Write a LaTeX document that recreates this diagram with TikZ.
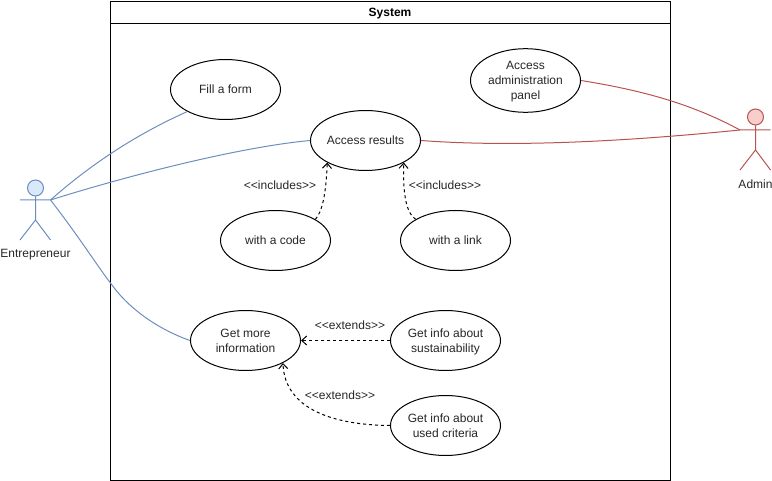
\documentclass[tikz,border=0pt]{standalone}
\usepackage{fontspec}
\setmainfont{Liberation Sans}
\usetikzlibrary{shapes.geometric,arrows.meta}
\definecolor{bluel}{HTML}{6C8EBF}
\definecolor{bluef}{HTML}{DAE8FC}
\definecolor{redl}{HTML}{B85450}
\definecolor{redf}{HTML}{F8CECC}
\newcommand\casetext[1]{\raisebox{-1.5pt}[\height][\depth]{\begin{tabular}{@{}c@{}}#1\end{tabular}}}
\tikzset{
  usecase/.style={ellipse,draw=black,line width=1pt,minimum width=110pt,minimum height=60pt,inner sep=0pt,font=\fontsize{12}{15}\selectfont,text=black!85},
  lbl/.style={inner sep=0pt,font=\fontsize{12}{15}\selectfont,text=black!85},
  depend/.style={line width=1pt,dash pattern=on 3pt off 3pt,-{Straight Barb[length=5pt,width=9pt]}},
  blueline/.style={draw=bluel,line width=1pt},
  redline/.style={draw=redl,line width=1pt},
  bluehead/.style={circle,draw=bluel,fill=bluef,line width=1pt,minimum size=16pt,inner sep=0pt},
  redhead/.style={circle,draw=redl,fill=redf,line width=1pt,minimum size=16pt,inner sep=0pt},
}
\begin{document}
\begin{tikzpicture}[x=1pt,y=-1pt]
\useasboundingbox (0,0) rectangle (772,481);
% system boundary
\node[draw=black,line width=1pt,minimum width=560pt,minimum height=479pt,inner sep=0pt,anchor=north west] (sys) at (110,1) {};
\coordinate (hl) at (110,24);
\coordinate (hr) at (670,24);
\draw[line width=1pt] (hl) -- (hr);
\node[inner sep=0pt,font=\fontsize{12}{15}\selectfont\bfseries] (systitle) at (390,13.5) {System};
% use cases
\node[usecase] (fill) at (225.5,89.5) {\casetext{Fill a form}};
\node[usecase] (results) at (365.5,140.5) {\casetext{Access results}};
\node[usecase] (panel) at (525.5,80.5) {\casetext{Access\\administration\\panel}};
\node[usecase] (code) at (275.5,240.5) {\casetext{with a code}};
\node[usecase] (link) at (455.5,240.5) {\casetext{with a link}};
\node[usecase] (more) at (245.5,340.5) {\casetext{Get more\\information}};
\node[usecase] (sust) at (445.5,340.5) {\casetext{Get info about\\sustainability}};
\node[usecase] (crit) at (445.5,425.5) {\casetext{Get info about\\used criteria}};
% entrepreneur
\node[bluehead] (ehead) at (35.5,188) {};
\coordinate (earml) at (20,200);
\coordinate (earmr) at (50.5,200);
\coordinate (ehip) at (35.5,220);
\coordinate (elegl) at (20,240);
\coordinate (elegr) at (50.5,240);
\draw[blueline] (ehead.south) -- (ehip) (earml) -- (earmr) (elegl) -- (ehip) -- (elegr);
\node[lbl] (elabel) at (35.5,254.5) {Entrepreneur};
% admin
\node[redhead] (ahead) at (755.5,117) {};
\coordinate (aarml) at (740,130);
\coordinate (aarmr) at (770.5,130);
\coordinate (ahip) at (755.5,150);
\coordinate (alegl) at (740,170);
\coordinate (alegr) at (770.5,170);
\draw[redline] (ahead.south) -- (ahip) (aarml) -- (aarmr) (alegl) -- (ahip) -- (alegr);
\node[lbl] (alabel) at (755.5,184.5) {Admin};
% actor links
\draw[blueline] (earmr) .. controls (90,165) and (135,135) .. (fill.210);
\draw[blueline] (earmr) .. controls (130,175) and (240,147) .. (results.west);
\draw[blueline] (earmr) .. controls (80,238) and (100,270) .. (112,285) .. controls (130,310) and (160,330) .. (more.west);
\draw[redline] (aarml) .. controls (690,103) and (640,90) .. (panel.east);
\draw[redline] (aarml) .. controls (640,140) and (520,148) .. (results.east);
% dependencies
\draw[depend] (code.28) .. controls (322,212) and (326,195) .. (results.210);
\draw[depend] (link.152) .. controls (405,212) and (403,190) .. (results.-30);
\draw[depend] (sust.west) -- (more.east);
\draw[depend] (crit.west) .. controls (335,425) and (285,410) .. (more.-31);
\node[lbl] (inc1) at (280,185.5) {<{}<includes>{}>};
\node[lbl] (inc2) at (445,185.5) {<{}<includes>{}>};
\node[lbl] (ext1) at (350,325.5) {<{}<extends>{}>};
\node[lbl] (ext2) at (340,395.5) {<{}<extends>{}>};
\end{tikzpicture}
\end{document}
